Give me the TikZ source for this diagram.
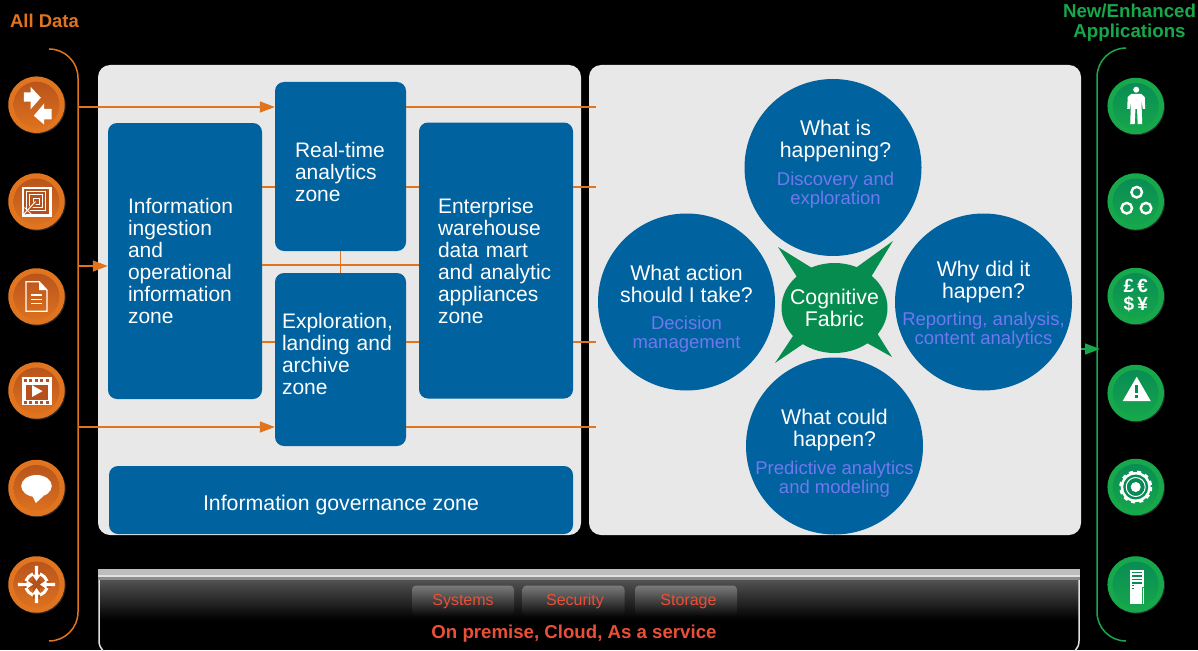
\documentclass[tikz,border=0pt]{standalone}
\usepackage{fontspec}
\setmainfont{Liberation Sans}
\usetikzlibrary{shadows}
\usetikzlibrary{positioning}
\usetikzlibrary{arrows.meta,shapes.geometric}
\usetikzlibrary{calc}

\definecolor{zoneblue}{HTML}{00629E}
\definecolor{panelgrey}{HTML}{E8E8E8}
\definecolor{dataorange}{HTML}{E0741F}
\definecolor{datadark}{HTML}{B5511C}
\definecolor{appgreen}{HTML}{17A84B}
\definecolor{appdark}{HTML}{078A55}
\definecolor{fabricgreen}{HTML}{078C50}
\definecolor{subblue}{HTML}{7078F0}
\definecolor{infrared}{HTML}{EA5038}

\newcommand{\subline}[1]{{\color{subblue}\fontsize{18.5}{19}\selectfont #1}}

\tikzset{
  panel/.style={fill=panelgrey, rounded corners=12, inner sep=0},
  zone/.style={fill=zoneblue, text=white, rounded corners=9, inner sep=0, align=left,
    font=\fontsize{21}{22}\selectfont},
  bubble/.style={circle, fill=zoneblue, text=white, inner sep=-30pt, minimum size=177, align=center,
    font=\fontsize{21.3}{22}\selectfont},
  dataline/.style={dataorange, line width=1.5},
  dataarrow/.style={dataline, -{Triangle[length=15pt,width=11pt]}},
  appline/.style={appgreen, line width=1.5},
  disc/.style={circle, inner sep=0, minimum size=56.5, drop shadow={shadow xshift=1pt, shadow yshift=-1pt, fill=white, opacity=0.15}},
  datadisc/.style={disc, fill=dataorange, path picture={\shade[top color=datadark, bottom color=dataorange] (path picture bounding box.center) circle (23);}},
  appdisc/.style={disc, fill=appgreen, path picture={\shade[top color=appdark, bottom color=appgreen] (path picture bounding box.center) circle (23);}},
  tabbox/.style={top color=black!52, bottom color=black!96, rounded corners=4, inner sep=0, minimum width=102, minimum height=30,
    align=center, text=infrared, font=\fontsize{16}{18}\selectfont}
}

\begin{document}
\begin{tikzpicture}[x=1pt, y=-1pt]

  \fill[black] (0,0) rectangle (1198,650);
  \useasboundingbox (0,0) rectangle (1198,650);

  \node[text=dataorange, font=\bfseries\fontsize{18.5}{20}\selectfont] (alldata) at (44.5,21) {All Data};
  \node[text=appgreen, font=\bfseries\fontsize{18.7}{20}\selectfont, align=center] (newapps) at (1129.5,22.5) {New/Enhanced\\Applications};

  % the two big panels
  \node[panel, minimum width=483, minimum height=470] (leftpanel) at (339.5,300) {};
  \node[panel, minimum width=492, minimum height=470] (rightpanel) at (835,300) {};

  % the platform at the bottom
  \shade[top color=black!68, bottom color=black] (99,580) rectangle (1079,620);
  \draw[black!12, line width=1.5, rounded corners=14] (99,578) -- (99,655) -- (1079,655) -- (1079,578);
  \fill[black!26] (98,569) rectangle (1080,574.5);
  \fill[black!12] (98,574.5) rectangle (1080,577);
  \fill[black!45] (98,577) rectangle (1080,580);

  \node[tabbox] (systems) at (463,600.5) {\mbox{}\\[-4pt]Systems};
  \node[tabbox] (security) at (573.5,600.5) {\mbox{}\\[-4pt]\hspace*{3pt}Security};
  \node[tabbox] (storage) at (686,600.5) {\mbox{}\\[-4pt]\hspace*{5pt}Storage};
  \node[text=infrared, font=\bfseries\fontsize{18.65}{20}\selectfont] (onpremise) at (574,633.5) {On premise, Cloud, As a service};

  % zones
  \node[zone, minimum width=154, minimum height=276, text width=114] (ingestion) at (185,261)
    {Information\\ingestion\\and\\operational\\information\\zone};
  \node[zone, minimum width=131, minimum height=169, text width=91] (realtime) at (340.5,166.5)
    {\mbox{}\\[5pt]Real-time\\analytics\\zone};
  \node[zone, minimum width=131, minimum height=173, text width=117] (exploration) at (340.5,359.5)
    {Exploration,\\landing and\\archive\\zone\\[-11pt]\mbox{}};
  \node[zone, minimum width=154, minimum height=276, text width=116] (warehouse) at (496,260.5)
    {Enterprise\\warehouse\\data mart\\and analytic\\appliances\\zone};
  \node[zone, minimum width=464, minimum height=68, align=center, font=\fontsize{21.3}{22}\selectfont] (governance) at (341,500)
    {\mbox{}\\[3pt]Information governance zone};

  % orange connectors
  \coordinate (datatop) at (49,49);
  \coordinate (busup) at (78,49);
  \coordinate (busdown) at (78,641);
  \coordinate (databot) at (49,641);
  \draw[dataline, rounded corners=29] (datatop) -- (busup) -- (busdown) -- (databot);

  \coordinate (busA) at (78,107);
  \coordinate (busB) at (78,266);
  \coordinate (busC) at (78,427);
  \draw[dataarrow] (busA) -- (busA -| realtime.west);
  \draw[dataarrow] (busB) -- (busB -| ingestion.west);
  \draw[dataarrow] (busC) -- (busC -| exploration.west);

  \coordinate (edgeA) at (596,107);
  \coordinate (edgeB) at (596,187);
  \coordinate (edgeC) at (596,342);
  \coordinate (edgeD) at (596,427);
  \coordinate (midline) at (340.5,265);
  \draw[dataline] (realtime.east |- edgeA) -- (edgeA);
  \draw[dataline] (ingestion.east |- edgeB) -- (realtime.west |- edgeB);
  \draw[dataline] (realtime.east |- edgeB) -- (warehouse.west |- edgeB);
  \draw[dataline] (warehouse.east |- edgeB) -- (edgeB);
  \draw[dataline] (ingestion.east |- midline) -- (warehouse.west |- midline);
  \draw[dataline] (realtime.south) -- (exploration.north);
  \draw[dataline] (ingestion.east |- edgeC) -- (exploration.west |- edgeC);
  \draw[dataline] (exploration.east |- edgeC) -- (warehouse.west |- edgeC);
  \draw[dataline] (warehouse.east |- edgeC) -- (edgeC);
  \draw[dataline] (exploration.east |- edgeD) -- (edgeD);

  % bubbles
  \node[bubble] (happening) at (833,167.5)
    {\hspace*{5pt}What is\\\hspace*{5pt}happening?\\[6pt]\hspace*{5pt}\subline{Discovery and}\\[-3pt]\hspace*{5pt}\subline{exploration}\\[-12pt]\mbox{}};
  \node[bubble] (whyhappen) at (983.5,302)
    {\mbox{}\\[-1pt]Why did it\\happen?\\[5pt]\subline{Reporting, analysis,}\\[-3pt]\subline{content analytics}};
  \node[bubble] (couldhappen) at (834.5,446)
    {\mbox{}\\[7pt]What could\\happen?\\[6pt]\subline{Predictive analytics}\\[-3pt]\subline{and modeling}};
  \node[bubble] (takeaction) at (686.5,302)
    {\mbox{}\\[7pt]What action\\should I take?\\[5pt]\subline{Decision}\\[-3pt]\subline{management}};

  \fill[fabricgreen] (778,247) -- (812,268) -- (857,267) -- (893,241) -- (871,277) -- (877,333) -- (892,357)
    -- (867,343) -- (803,344) -- (775,363) -- (793,336) -- (797,277) -- cycle;
  \node[ellipse, fill=fabricgreen, text=white, inner sep=-15pt, minimum width=106, minimum height=90, align=center,
    font=\fontsize{21.3}{22}\selectfont] (fabric) at (834.5,308) {Cognitive\\Fabric};

  % green connector
  \coordinate (apptop) at (1126,48);
  \coordinate (appup) at (1097,48);
  \coordinate (appdown) at (1097,641);
  \coordinate (appbot) at (1126,641);
  \draw[appline, rounded corners=29] (apptop) -- (appup) -- (appdown) -- (appbot);
  \coordinate (appin) at (1100,349);
  \draw[appline, -{Triangle[length=15pt,width=11pt]}] (rightpanel.east |- appin) -- (appin);

  % data icons
  \node[datadisc] (dataA) at (36.5,104.7) {};
  \node[datadisc] (dataB) at (36.5,201.5) {};
  \node[datadisc] (dataC) at (36.5,296.5) {};
  \node[datadisc] (dataD) at (36.5,390.5) {};
  \node[datadisc] (dataE) at (36.5,488) {};
  \node[datadisc] (dataF) at (36.5,584.5) {};

  \begin{scope}[shift={(dataA)}]
    \fill[white] (-12.7,-12.3) -- (-6,-12.3) -- (-6,-18) -- (4.3,-7) -- (-6,4.7) -- (-6,-3) -- (-12.7,-3) -- cycle;
    \fill[white] (-2.7,11) -- (7.7,-1.3) -- (7.7,4.3) -- (15,4.3) -- (15,14.7) -- (7.7,14.7) -- (7.7,20) -- cycle;
  \end{scope}

  \begin{scope}[shift={(dataB)}]
    \fill[white] (-15,-15) rectangle (15,15);
    \fill[datadark] (-12.5,-12.5) rectangle (12.5,12.5);
    \draw[white, line width=1] (-10,-10) rectangle (9,9);
    \draw[white, line width=1] (-7,-7) rectangle (6,6);
    \draw[white, line width=1] (-3.5,-3.5) rectangle (3,3);
    \draw[datadark, line width=3] (-12,12) -- (-1,1);
    \draw[white, line width=1] (-13,13) -- (-1,0);
    \draw[white, line width=1] (-12,6) -- (-5,13);
  \end{scope}

  \begin{scope}[shift={(dataC)}]
    \draw[white, line width=1.3] (-10.5,-14.7) -- (2.7,-14.7) -- (10.5,-6.3) -- (10.5,14.7) -- (-10.5,14.7) -- cycle;
    \fill[white] (2.7,-14.7) -- (10.5,-6.3) -- (2.7,-6.3) -- cycle;
    \draw[white, line width=1.6] (-5.5,-1.3) -- (5.5,-1.3);
    \draw[white, line width=1.6] (-5.5,2.9) -- (5.5,2.9);
    \draw[white, line width=1.6] (-5.5,7.1) -- (5.5,7.1);
  \end{scope}

  \begin{scope}[shift={(dataD)}]
    \fill[white] (-15,-13.7) rectangle (15,14.7);
    \fill[datadark] (-11,-6) rectangle (11,9);
    \fill[white] (-4.3,-5.3) -- (6,0.7) -- (-4.3,6.3) -- cycle;
    \draw[datadark, line width=2.5, dash pattern=on 3pt off 2.6pt] (-13,-10) -- (13,-10);
    \draw[datadark, line width=2.5, dash pattern=on 3pt off 2.6pt] (-13,12) -- (13,12);
  \end{scope}

  \begin{scope}[shift={(dataE)}]
    \fill[white] (0,-2) ellipse (15.3 and 11);
    \fill[white] (-4,8) -- (-0.7,15) -- (7,8) -- cycle;
  \end{scope}

  \begin{scope}[shift={(dataF)}]
    \draw[white, line width=3] (0,0) circle (11);
    \draw[datadark, line width=7] (-14,0) -- (14,0);
    \draw[datadark, line width=7] (0,-14) -- (0,14);
    \fill[white] (-1.7,-18.7) -- (1.7,-18.7) -- (1.7,-10) -- (4.5,-10) -- (0,-3.5) -- (-4.5,-10) -- (-1.7,-10) -- cycle;
    \fill[white] (-1.7,18.7) -- (1.7,18.7) -- (1.7,10) -- (4.5,10) -- (0,3.5) -- (-4.5,10) -- (-1.7,10) -- cycle;
    \fill[white] (-18.7,-1.7) -- (-18.7,1.7) -- (-10,1.7) -- (-10,4.5) -- (-3.5,0) -- (-10,-4.5) -- (-10,-1.7) -- cycle;
    \fill[white] (18.7,-1.7) -- (18.7,1.7) -- (10,1.7) -- (10,4.5) -- (3.5,0) -- (10,-4.5) -- (10,-1.7) -- cycle;
  \end{scope}

  % application icons
  \node[appdisc] (appA) at (1135.7,106) {};
  \node[appdisc] (appB) at (1135.7,201.5) {};
  \node[appdisc] (appC) at (1135.7,296) {};
  \node[appdisc] (appD) at (1135.7,393) {};
  \node[appdisc] (appE) at (1135.7,487) {};
  \node[appdisc] (appF) at (1135.7,584.5) {};

  \begin{scope}[shift={(appA)}]
    \fill[white] (0.5,-16.3) circle (3);
    \fill[white] (-4.5,-12) -- (5.5,-12) -- (9,-9) -- (9.5,3) -- (7,3) -- (6,-6) -- (6,3) -- (6.5,18) -- (2,18) -- (1.3,3)
      -- (-0.3,3) -- (-1,18) -- (-5.5,18) -- (-5,3) -- (-5,-6) -- (-6,3) -- (-8.5,3) -- (-8,-9) -- cycle;
  \end{scope}

  \begin{scope}[shift={(appB)}]
    \draw[white, line width=2.4] (1,-9.3) circle (5.3);
    \draw[white, line width=2.4] (-9,6.7) circle (5.3);
    \draw[white, line width=2.4] (10.3,6.7) circle (5.3);
  \end{scope}

  \begin{scope}[shift={(appC)}]
    \node[text=white, align=center, font=\bfseries\fontsize{19}{18}\selectfont] (moneytext) at (0,0) {£\,€\\\$\,¥};
  \end{scope}

  \begin{scope}[shift={(appD)}]
    \fill[white] (1,-16.3) -- (15,8) -- (-13,8) -- cycle;
    \fill[fabricgreen] (-0.7,-8) rectangle (2.3,0.3);
    \fill[fabricgreen] (-0.7,2) rectangle (2.3,4.7);
  \end{scope}

  \begin{scope}[shift={(appE)}]
    \draw[white, line width=3, dash pattern=on 4pt off 4pt] (0,0) circle (15);
    \fill[white] (0,0) circle (15);
    \fill[appdark] (0,0) circle (12.5);
    \draw[white, line width=1] (0,0) circle (9.5);
    \fill[white] (0,0) circle (5);
  \end{scope}

  \begin{scope}[shift={(appF)}]
    \fill[white] (-5.7,-15) rectangle (8.3,19);
    \fill[appdark] (6,3) rectangle (7,18);
    \draw[appdark, line width=1.4] (-3.5,-12) -- (6,-12);
    \draw[appdark, line width=1.4] (-3.5,-8.5) -- (6,-8.5);
    \draw[appdark, line width=1.4] (-3.5,-5) -- (6,-5);
    \draw[appdark, line width=1.4] (-3.5,-1.5) -- (6,-1.5);
    \draw[appdark, line width=1] (-4,1) -- (-2,1);
    \draw[appdark, line width=1] (-4,3.5) -- (-2,3.5);
    \fill[appgreen] (6.5,2) -- (8.3,2) -- (8.3,19) -- (6.5,19) -- cycle;
    \fill[white] (7,3) rectangle (8.3,19);
  \end{scope}

\end{tikzpicture}
\end{document}
